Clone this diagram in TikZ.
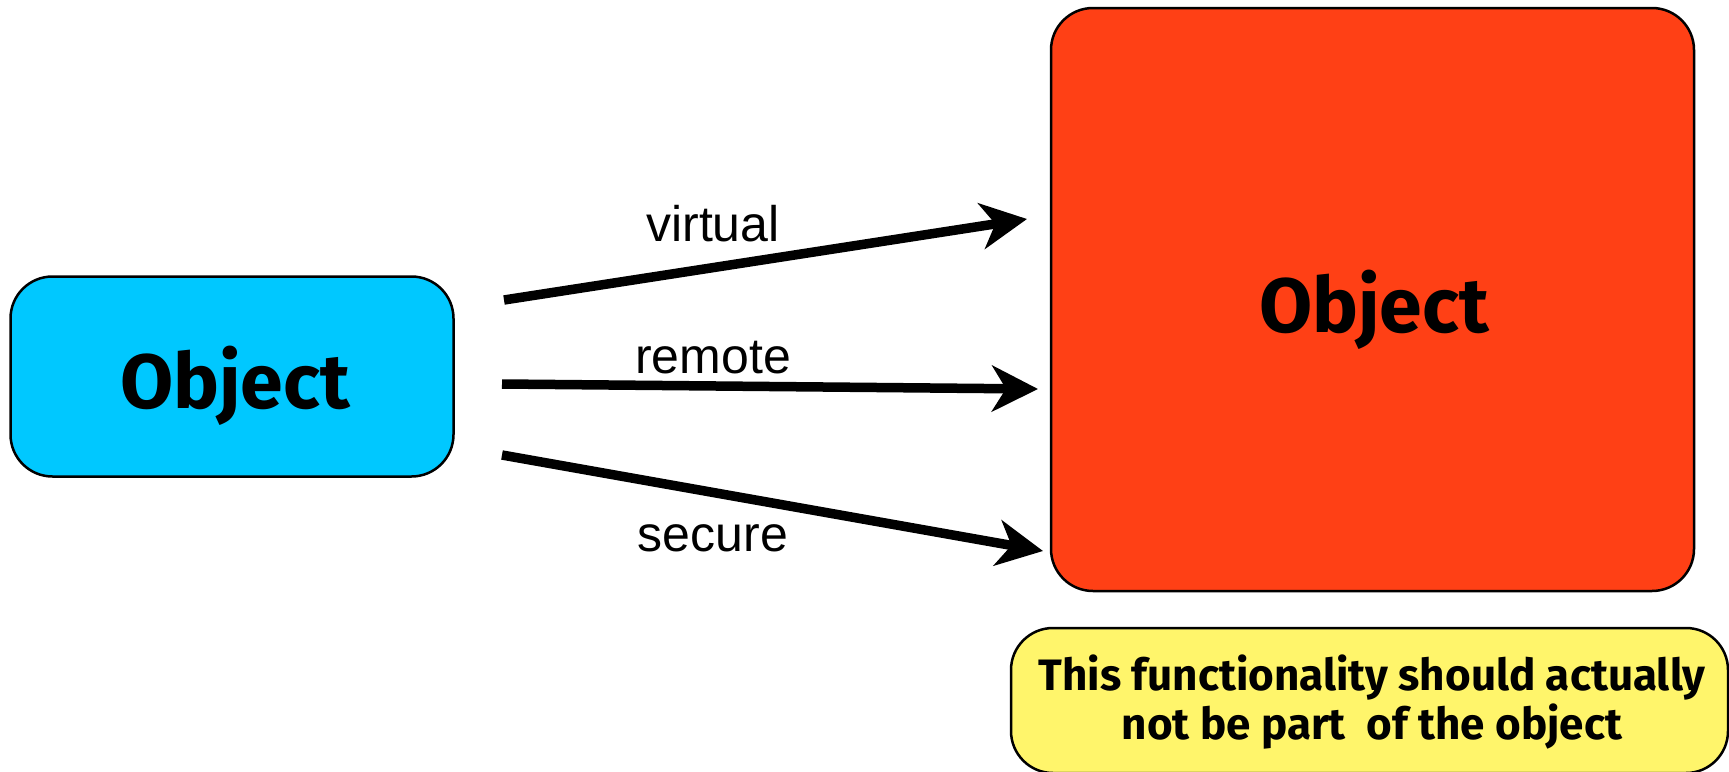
\documentclass[tikz,border=0pt]{standalone}
\usepackage{fontspec}
\setmainfont{Liberation Sans}
\newfontfamily\objfont{Fira Sans}
\usetikzlibrary{arrows.meta}
\definecolor{objblue}{RGB}{0,200,255}
\definecolor{objred}{RGB}{255,64,21}
\definecolor{noteyellow}{RGB}{255,245,107}
\begin{document}
\begin{tikzpicture}[x=1pt,y=-1pt,
  box/.style={draw=black, line width=2.5pt, rounded corners=42pt, inner sep=0pt},
  flow/.style={line width=9.5pt, -{Stealth[length=46pt,width=46pt,inset=14pt]}},
  lbl/.style={font=\fontsize{50}{60}\selectfont, anchor=base, inner sep=0pt},
  big/.style={font=\objfont\bfseries\fontsize{77}{90}\selectfont, anchor=base, inner sep=0pt},
  notetext/.style={font=\objfont\bfseries\fontsize{44}{49}\selectfont, align=center, inner sep=0pt}]
\useasboundingbox (0,0) rectangle (1729,771);
\fill[white] (0,0) rectangle (1729,771);
% boxes
\node[box, fill=objblue, minimum width=443pt, minimum height=200pt] (client) at (232,376.5) {};
\node[big] (clienttext) at (235,408) {Object};
\node[box, fill=objred, minimum width=643pt, minimum height=583pt] (server) at (1372.5,299.5) {};
\node[big] (servertext) at (1374,332) {Object};
\node[box, fill=noteyellow, minimum width=717pt, minimum height=145pt] (note) at (1369.5,700.5) {};
\node[notetext] (notetxt) at (1372,702) {This functionality should actually\\not be part\ \ of the object};
% arrow end points
\coordinate (v1) at (504,300);
\coordinate (v2) at (1027,219);
\coordinate (r1) at (502,384);
\coordinate (r2) at (1038,389);
\coordinate (s1) at (502,455);
\coordinate (s2) at (1043,551);
\draw[flow] (v1) -- (v2);
\draw[flow] (r1) -- (r2);
\draw[flow] (s1) -- (s2);
\node[lbl] (lv) at (713,241) {virtual};
\node[lbl] (lr) at (713,373) {remote};
\node[lbl] (ls) at (713,551) {secure};
\end{tikzpicture}
\end{document}
